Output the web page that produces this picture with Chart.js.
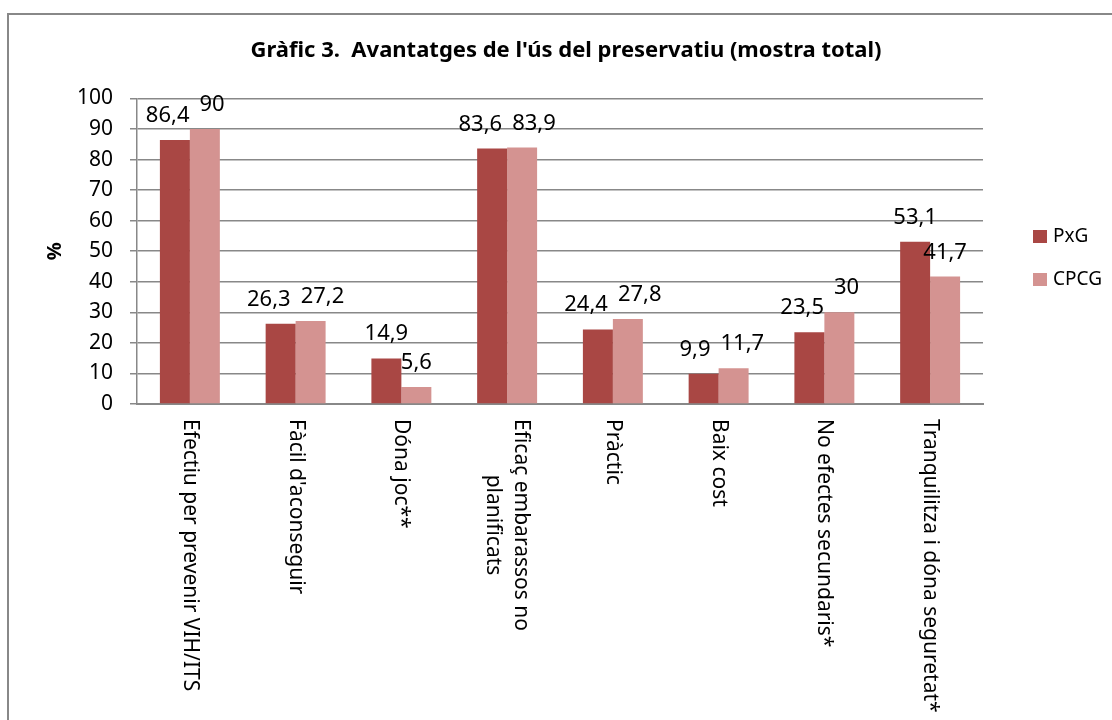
<!DOCTYPE html>
<html>
<head>
<meta charset="utf-8">
<script src="https://cdn.jsdelivr.net/npm/chart.js@4.4.0/dist/chart.umd.min.js"></script>
<style>
  html, body { margin: 0; padding: 0; background: #fff; }
  #wrap { position: relative; width: 1112px; height: 720px; overflow: hidden; }
  #frame { position: absolute; left: 7px; top: 13px; width: 1200px; height: 800px; border: 2px solid #888; }
  canvas { position: absolute; left: 0; top: 0; }
</style>
</head>
<body>
<div id="wrap">
  <div id="frame"></div>
  <canvas id="chart" width="1112" height="720"></canvas>
</div>
<script>
const FONT = '"Noto Sans", "Open Sans", sans-serif';

// category labels (one entry per line)
const categories = [
  ['Efectiu per prevenir VIH/ITS'],
  ["Fàcil d'aconseguir"],
  ['Dóna joc**'],
  ['Eficaç embarassos no', 'planificats'],
  ['Pràctic'],
  ['Baix cost'],
  ['No efectes secundaris*'],
  ['Tranquilitza i dóna seguretat*']
];
const seriesNames = ['PxG', 'CPCG'];
const pxgValues = [86.4, 26.3, 14.9, 83.6, 24.4, 9.9, 23.5, 53.1];
const cpcgValues = [90, 27.2, 5.6, 83.9, 27.8, 11.7, 30, 41.7];
const yMin = 0, yMax = 100, yStep = 10;

const fmt = v => String(v).replace('.', ',');

// rotated (top to bottom) category labels under the x axis
const categoryLabels = {
  id: 'categoryLabels',
  afterDraw(chart) {
    const { ctx } = chart;
    const xs = chart.scales.x;
    const lh = 28;
    ctx.save();
    ctx.font = '21px ' + FONT;
    ctx.fillStyle = '#000';
    ctx.textAlign = 'center';
    ctx.textBaseline = 'middle';
    categories.forEach((lines, i) => {
      const x = xs.getPixelForValue(i);
      const maxW = Math.max(...lines.map(l => ctx.measureText(l).width));
      ctx.save();
      ctx.translate(x, xs.top + 15);
      ctx.rotate(Math.PI / 2);
      lines.forEach((l, j) => ctx.fillText(l, maxW / 2, (j - (lines.length - 1) / 2) * lh));
      ctx.restore();
    });
    ctx.restore();
  }
};

// value labels above the bars, pushed apart when they collide
const valueLabels = {
  id: 'valueLabels',
  afterDatasetsDraw(chart) {
    const { ctx } = chart;
    const a = chart.getDatasetMeta(0).data;
    const b = chart.getDatasetMeta(1).data;
    const ds = chart.data.datasets;
    ctx.save();
    ctx.font = '22px ' + FONT;
    ctx.fillStyle = '#000';
    ctx.textAlign = 'center';
    ctx.textBaseline = 'alphabetic';
    a.forEach((barA, i) => {
      const barB = b[i];
      const ta = fmt(ds[0].data[i]), tb = fmt(ds[1].data[i]);
      const wa = ctx.measureText(ta).width, wb = ctx.measureText(tb).width;
      let ax = barA.x, bx = barB.x;
      const ay = barA.y - 18, by = barB.y - 18;
      if (Math.abs(ay - by) < 22) {
        const space = (bx - wb / 2) - (ax + wa / 2);
        if (space < 10) {
          const need = 10 - space;
          ax -= need / 2;
          bx += need / 2;
        }
      }
      ctx.fillText(ta, ax, ay);
      ctx.fillText(tb, bx, by);
    });
    ctx.restore();
  }
};

// legend on the right
const sideLegend = {
  id: 'sideLegend',
  afterDraw(chart) {
    const { ctx } = chart;
    ctx.save();
    ctx.font = '19px ' + FONT;
    ctx.textBaseline = 'middle';
    ctx.textAlign = 'left';
    chart.data.datasets.forEach((d, i) => {
      const cy = 237 + i * 43;
      ctx.fillStyle = d.backgroundColor;
      ctx.fillRect(1033, cy - 7, 14, 13);
      ctx.fillStyle = '#000';
      ctx.fillText(d.label, 1053, cy);
    });
    ctx.restore();
  }
};

new Chart(document.getElementById('chart'), {
  type: 'bar',
  data: {
    labels: categories.map(c => c.join(' ')),
    datasets: [
      { label: seriesNames[0], data: pxgValues, backgroundColor: '#A94744' },
      { label: seriesNames[1], data: cpcgValues, backgroundColor: '#D49391' }
    ]
  },
  options: {
    responsive: false,
    animation: false,
    devicePixelRatio: 1,
    layout: { padding: { left: 20, right: 0, top: 0, bottom: 0 } },
    datasets: { bar: { categoryPercentage: 0.567, barPercentage: 1 } },
    plugins: {
      legend: { display: false },
      tooltip: { enabled: false },
      title: {
        display: true,
        text: "Gràfic 3.  Avantatges de l'ús del preservatiu (mostra total)",
        color: '#000',
        font: { family: FONT, size: 22, weight: 'bold' },
        padding: { top: 38, bottom: 34 }
      }
    },
    scales: {
      x: {
        ticks: { display: false },
        grid: { display: false },
        border: { display: true, color: '#888', width: 2 },
        afterFit: s => { s.height = 316; }
      },
      y: {
        min: yMin,
        max: yMax,
        ticks: { stepSize: yStep, color: '#000', padding: 17, font: { family: FONT, size: 21 } },
        grid: { color: '#888', lineWidth: 1.5, tickLength: 7 },
        border: { color: '#888', width: 1.5 },
        title: {
          display: true, text: '%', color: '#000',
          font: { family: FONT, size: 20, weight: 'bold' },
          padding: { top: 23, bottom: 0 }
        },
        afterFit: s => { s.width = 117; }
      },
      // empty right-hand axis that only reserves room for the legend
      side: {
        position: 'right',
        ticks: { display: false },
        grid: { display: false },
        border: { display: false },
        afterFit: s => { s.width = 129; }
      }
    }
  },
  plugins: [categoryLabels, valueLabels, sideLegend]
});
</script>
</body>
</html>
